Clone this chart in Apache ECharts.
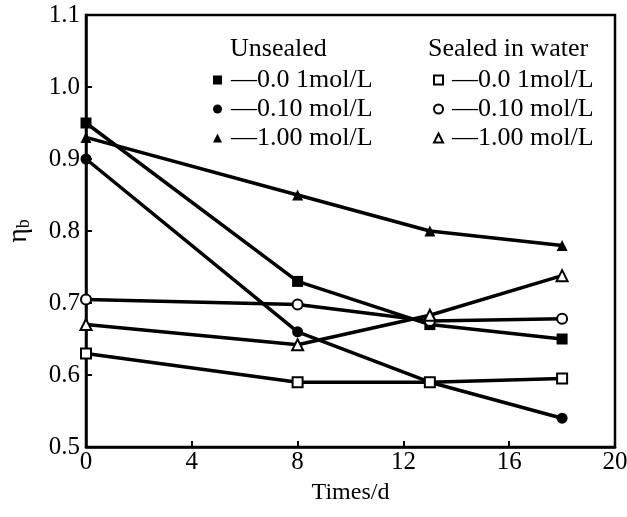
<!DOCTYPE html>
<html>
<head>
<meta charset="utf-8">
<title>eta_b vs time</title>
<script src="https://cdn.jsdelivr.net/npm/echarts@6/dist/echarts.min.js"></script>
<style>
  html, body { margin: 0; padding: 0; background: #fff; }
  #main { width: 627px; height: 517px; }
</style>
</head>
<body>
<div id="main"></div>
<script>
// 数据
var days = [0, 8, 13, 18];
var unsealed001 = [0.95, 0.73, 0.67, 0.65];
var unsealed010 = [0.90, 0.66, 0.59, 0.54];
var unsealed100 = [0.93, 0.85, 0.80, 0.78];
var sealed001 = [0.63, 0.59, 0.59, 0.595];
var sealed010 = [0.705, 0.698, 0.675, 0.678];
var sealed100 = [0.67, 0.642, 0.683, 0.738];
var yTicks = ['0.5', '0.6', '0.7', '0.8', '0.9', '1.0', '1.1'];
var xTicks = ['0', '4', '8', '12', '16', '20'];

var fontName = 'Liberation Serif, DejaVu Serif, serif';
var legendText = {
	'u001': '\u20140.0 1mol/L',
	'u010': '\u20140.10 mol/L',
	'u100': '\u20141.00 mol/L',
	's001': '\u20140.0 1mol/L',
	's010': '\u20140.10 mol/L',
	's100': '\u20141.00 mol/L'
};

function pairs(vals) {
	var arr = [];
	for (var i = 0; i < days.length; i++) {
		arr.push([days[i], vals[i]]);
	}
	return arr;
}

function makeSeries(name, vals, symbol, size, open) {
	return {
		name: name,
		type: 'line',
		data: pairs(vals),
		symbol: symbol,
		symbolSize: size,
		showAllSymbol: true,
		lineStyle: { color: '#000', width: 3.5 },
		itemStyle: open ? { color: '#fff', borderColor: '#000', borderWidth: 2 }
		                : { color: '#000', borderWidth: 0 },
		emphasis: { disabled: true },
		z: open ? 3 : 2
	};
}

function legendBox(left, names, icons) {
	var items = [];
	for (var i = 0; i < names.length; i++) {
		items.push({ name: names[i], icon: icons[i] });
	}
	return {
		orient: 'vertical',
		left: left,
		top: 62,
		itemWidth: 9,
		itemHeight: 9,
		itemGap: 3,
		selectedMode: false,
		data: items,
		formatter: function (n) { return legendText[n]; },
		textStyle: { fontFamily: fontName, fontSize: 26, color: '#000', padding: [0, 0, 0, 4] }
	};
}

var myChart = echarts.init(document.getElementById('main'));
var option = {
	animation: false,
	backgroundColor: '#fff',
	grid: {
		left: 86, right: 12, top: 15, bottom: 70,
		outerBoundsMode: 'none',
		show: true, borderColor: '#000', borderWidth: 2.5
	},
	legend: [
		legendBox(208, ['u001', 'u010', 'u100'], ['rect', 'circle', 'triangle']),
		legendBox(428, ['s001', 's010', 's100'], ['rect', 'circle', 'triangle'])
	],
	graphic: [
		{ type: 'text', left: 230, top: 36, style: { text: 'Unsealed', font: '26px ' + fontName, fill: '#000' } },
		{ type: 'text', left: 428, top: 36, style: { text: 'Sealed in water', font: '26px ' + fontName, fill: '#000' } }
	],
	xAxis: {
		type: 'value',
		min: 0, max: 20, interval: 4,
		name: 'Times/d',
		nameLocation: 'middle',
		nameGap: 34,
		nameTextStyle: { fontFamily: fontName, fontSize: 24, color: '#000' },
		axisLine: { lineStyle: { color: '#000', width: 2.5 } },
		axisTick: { inside: true, length: 6, lineStyle: { color: '#000', width: 2 } },
		axisLabel: {
			margin: 3, fontFamily: fontName, fontSize: 25, color: '#000',
			formatter: function (v) { return xTicks[v / 4]; }
		},
		splitLine: { show: false }
	},
	yAxis: {
		type: 'value',
		min: 0.5, max: 1.1, interval: 0.1,
		name: '{eta|\u03b7}{sub|b}',
		nameLocation: 'middle',
		nameGap: 53,
		nameTextStyle: {
			rich: {
				eta: { fontFamily: fontName, fontSize: 28, color: '#000' },
				sub: { fontFamily: fontName, fontSize: 18, color: '#000', verticalAlign: 'bottom', padding: [10, 0, 0, 0] }
			}
		},
		axisLine: { lineStyle: { color: '#000', width: 2.5 } },
		axisTick: { inside: true, length: 6, lineStyle: { color: '#000', width: 2 } },
		axisLabel: {
			margin: 6, fontFamily: fontName, fontSize: 25, color: '#000',
			formatter: function (v) { return yTicks[Math.round((v - 0.5) * 10)]; }
		},
		splitLine: { show: false }
	},
	series: [
		makeSeries('u001', unsealed001, 'rect', 11, false),
		makeSeries('u010', unsealed010, 'circle', 11, false),
		makeSeries('u100', unsealed100, 'triangle', 11, false),
		makeSeries('s001', sealed001, 'rect', 10, true),
		makeSeries('s010', sealed010, 'circle', 10, true),
		makeSeries('s100', sealed100, 'triangle', 11, true)
	]
};
myChart.setOption(option);
</script>
</body>
</html>
